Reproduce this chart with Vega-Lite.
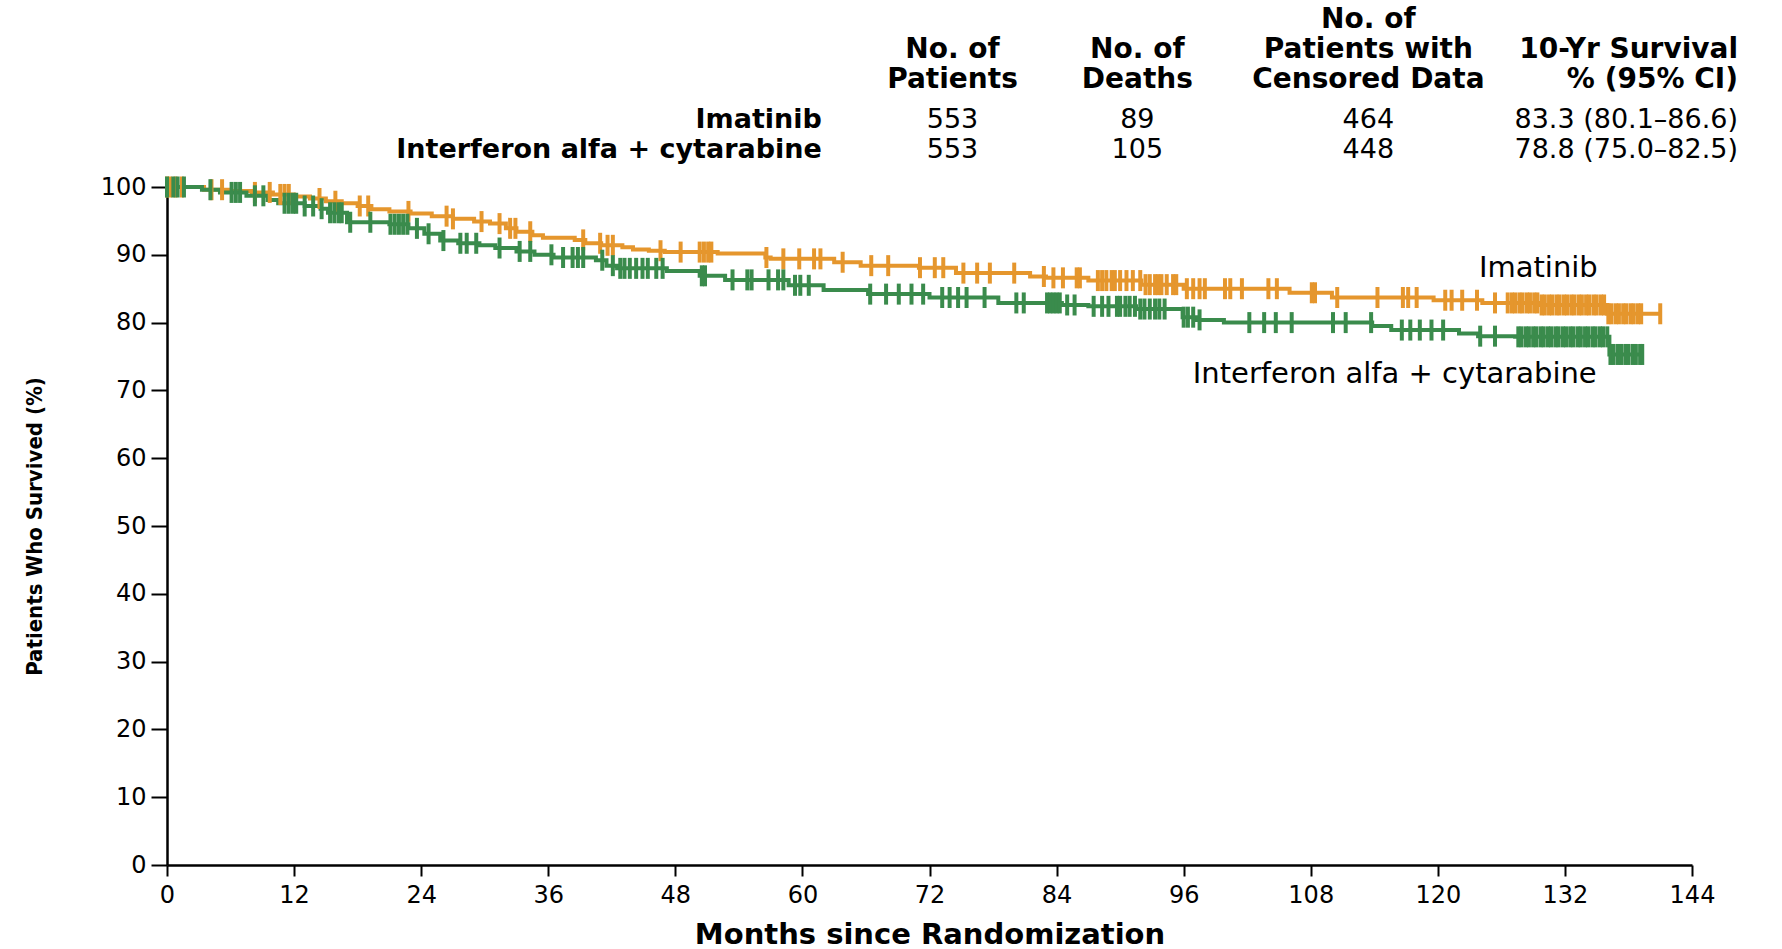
{
  "$schema": "https://vega.github.io/schema/vega-lite/v6.json",
  "background": "white",
  "padding": {"left": 23, "top": 6, "right": 0, "bottom": 0},
  "bounds": "flush",
  "spacing": 37,
  "config": {
    "view": {"stroke": null},
    "axis": {
      "grid": false,
      "domainColor": "black",
      "domainWidth": 2.5,
      "tickColor": "black",
      "tickWidth": 2,
      "labelColor": "black",
      "titleColor": "black",
      "labelFont": "DejaVu Sans",
      "labelFontSize": 24,
      "titleFont": "DejaVu Sans"
    }
  },
  "datasets": {
    "table": [
      {"col": "label", "line": "Imatinib", "kind": "row", "text": "Imatinib"},
      {"col": "label", "line": "Interferon alfa + cytarabine", "kind": "row", "text": "Interferon alfa + cytarabine"},
      {"col": "patients", "line": "l2", "kind": "header", "text": "No. of"},
      {"col": "patients", "line": "l3", "kind": "header", "text": "Patients"},
      {"col": "deaths", "line": "l2", "kind": "header", "text": "No. of"},
      {"col": "deaths", "line": "l3", "kind": "header", "text": "Deaths"},
      {"col": "censored", "line": "l1", "kind": "header", "text": "No. of"},
      {"col": "censored", "line": "l2", "kind": "header", "text": "Patients with"},
      {"col": "censored", "line": "l3", "kind": "header", "text": "Censored Data"},
      {"col": "survival", "line": "l2", "kind": "header", "text": "10-Yr Survival"},
      {"col": "survival", "line": "l3", "kind": "header", "text": "% (95% CI)"},
      {"col": "patients", "line": "Imatinib", "kind": "value", "text": "553"},
      {"col": "deaths", "line": "Imatinib", "kind": "value", "text": "89"},
      {"col": "censored", "line": "Imatinib", "kind": "value", "text": "464"},
      {"col": "survival", "line": "Imatinib", "kind": "value", "text": "83.3 (80.1–86.6)"},
      {"col": "patients", "line": "Interferon alfa + cytarabine", "kind": "value", "text": "553"},
      {"col": "deaths", "line": "Interferon alfa + cytarabine", "kind": "value", "text": "105"},
      {"col": "censored", "line": "Interferon alfa + cytarabine", "kind": "value", "text": "448"},
      {"col": "survival", "line": "Interferon alfa + cytarabine", "kind": "value", "text": "78.8 (75.0–82.5)"}
    ],
    "curve": [
      {"arm": "Imatinib", "month": 0, "surv": 100},
      {"arm": "Imatinib", "month": 3.5, "surv": 99.6},
      {"arm": "Imatinib", "month": 6, "surv": 99.4},
      {"arm": "Imatinib", "month": 8, "surv": 99.2},
      {"arm": "Imatinib", "month": 10, "surv": 98.9},
      {"arm": "Imatinib", "month": 12, "surv": 98.6},
      {"arm": "Imatinib", "month": 13.5, "surv": 98.3},
      {"arm": "Imatinib", "month": 15, "surv": 97.9},
      {"arm": "Imatinib", "month": 16.5, "surv": 97.6},
      {"arm": "Imatinib", "month": 18, "surv": 97.2},
      {"arm": "Imatinib", "month": 19.3, "surv": 96.7},
      {"arm": "Imatinib", "month": 21, "surv": 96.4},
      {"arm": "Imatinib", "month": 23, "surv": 96.1},
      {"arm": "Imatinib", "month": 25, "surv": 95.7},
      {"arm": "Imatinib", "month": 27, "surv": 95.3},
      {"arm": "Imatinib", "month": 29, "surv": 94.9},
      {"arm": "Imatinib", "month": 30.5, "surv": 94.6},
      {"arm": "Imatinib", "month": 32, "surv": 93.9},
      {"arm": "Imatinib", "month": 33, "surv": 93.4},
      {"arm": "Imatinib", "month": 34.5, "surv": 92.9},
      {"arm": "Imatinib", "month": 35.5, "surv": 92.5},
      {"arm": "Imatinib", "month": 38.5, "surv": 92.2},
      {"arm": "Imatinib", "month": 39.5, "surv": 91.7},
      {"arm": "Imatinib", "month": 41, "surv": 91.4},
      {"arm": "Imatinib", "month": 43, "surv": 91.1},
      {"arm": "Imatinib", "month": 44, "surv": 90.8},
      {"arm": "Imatinib", "month": 45.5, "surv": 90.6},
      {"arm": "Imatinib", "month": 47, "surv": 90.4},
      {"arm": "Imatinib", "month": 52, "surv": 90.2},
      {"arm": "Imatinib", "month": 56.5, "surv": 89.6},
      {"arm": "Imatinib", "month": 57, "surv": 89.4},
      {"arm": "Imatinib", "month": 63, "surv": 88.9},
      {"arm": "Imatinib", "month": 65.5, "surv": 88.4},
      {"arm": "Imatinib", "month": 71, "surv": 88.1},
      {"arm": "Imatinib", "month": 74.5, "surv": 87.3},
      {"arm": "Imatinib", "month": 81.5, "surv": 86.8},
      {"arm": "Imatinib", "month": 83, "surv": 86.6},
      {"arm": "Imatinib", "month": 87, "surv": 86.2},
      {"arm": "Imatinib", "month": 92, "surv": 85.6},
      {"arm": "Imatinib", "month": 96, "surv": 85.0},
      {"arm": "Imatinib", "month": 106, "surv": 84.4},
      {"arm": "Imatinib", "month": 110, "surv": 83.7},
      {"arm": "Imatinib", "month": 119.6, "surv": 83.3},
      {"arm": "Imatinib", "month": 124.2, "surv": 82.9},
      {"arm": "Imatinib", "month": 129.5, "surv": 82.6},
      {"arm": "Imatinib", "month": 136, "surv": 81.3},
      {"arm": "Imatinib", "month": 141, "surv": 81.3},
      {"arm": "Interferon alfa + cytarabine", "month": 0, "surv": 100},
      {"arm": "Interferon alfa + cytarabine", "month": 3.3, "surv": 99.6},
      {"arm": "Interferon alfa + cytarabine", "month": 5, "surv": 99.2},
      {"arm": "Interferon alfa + cytarabine", "month": 7.5, "surv": 98.7},
      {"arm": "Interferon alfa + cytarabine", "month": 9.5, "surv": 98.1},
      {"arm": "Interferon alfa + cytarabine", "month": 10.5, "surv": 97.6},
      {"arm": "Interferon alfa + cytarabine", "month": 13, "surv": 97.2},
      {"arm": "Interferon alfa + cytarabine", "month": 14.5, "surv": 96.8},
      {"arm": "Interferon alfa + cytarabine", "month": 15.2, "surv": 96.2},
      {"arm": "Interferon alfa + cytarabine", "month": 17, "surv": 94.8},
      {"arm": "Interferon alfa + cytarabine", "month": 21, "surv": 94.5},
      {"arm": "Interferon alfa + cytarabine", "month": 22.8, "surv": 93.9},
      {"arm": "Interferon alfa + cytarabine", "month": 24.3, "surv": 93.1},
      {"arm": "Interferon alfa + cytarabine", "month": 25.8, "surv": 92.1},
      {"arm": "Interferon alfa + cytarabine", "month": 27.5, "surv": 91.7},
      {"arm": "Interferon alfa + cytarabine", "month": 29.5, "surv": 91.4},
      {"arm": "Interferon alfa + cytarabine", "month": 31, "surv": 91.0},
      {"arm": "Interferon alfa + cytarabine", "month": 33, "surv": 90.5},
      {"arm": "Interferon alfa + cytarabine", "month": 34.7, "surv": 90.0},
      {"arm": "Interferon alfa + cytarabine", "month": 36.5, "surv": 89.6},
      {"arm": "Interferon alfa + cytarabine", "month": 40.5, "surv": 89.2},
      {"arm": "Interferon alfa + cytarabine", "month": 41.5, "surv": 88.4},
      {"arm": "Interferon alfa + cytarabine", "month": 42.5, "surv": 88.0},
      {"arm": "Interferon alfa + cytarabine", "month": 47.2, "surv": 87.6},
      {"arm": "Interferon alfa + cytarabine", "month": 50.3, "surv": 86.9},
      {"arm": "Interferon alfa + cytarabine", "month": 52.7, "surv": 86.3},
      {"arm": "Interferon alfa + cytarabine", "month": 58.7, "surv": 85.5},
      {"arm": "Interferon alfa + cytarabine", "month": 62, "surv": 84.8},
      {"arm": "Interferon alfa + cytarabine", "month": 66.2, "surv": 84.2},
      {"arm": "Interferon alfa + cytarabine", "month": 72, "surv": 83.7},
      {"arm": "Interferon alfa + cytarabine", "month": 78.5, "surv": 82.9},
      {"arm": "Interferon alfa + cytarabine", "month": 84.5, "surv": 82.6},
      {"arm": "Interferon alfa + cytarabine", "month": 87, "surv": 82.4},
      {"arm": "Interferon alfa + cytarabine", "month": 91.5, "surv": 82.0},
      {"arm": "Interferon alfa + cytarabine", "month": 95.9, "surv": 80.8},
      {"arm": "Interferon alfa + cytarabine", "month": 97.2, "surv": 80.4},
      {"arm": "Interferon alfa + cytarabine", "month": 99.8, "surv": 80.0},
      {"arm": "Interferon alfa + cytarabine", "month": 113.8, "surv": 79.5},
      {"arm": "Interferon alfa + cytarabine", "month": 115.6, "surv": 78.9},
      {"arm": "Interferon alfa + cytarabine", "month": 122, "surv": 78.4},
      {"arm": "Interferon alfa + cytarabine", "month": 123.8, "surv": 78.0},
      {"arm": "Interferon alfa + cytarabine", "month": 127.3, "surv": 77.9},
      {"arm": "Interferon alfa + cytarabine", "month": 136.2, "surv": 75.3},
      {"arm": "Interferon alfa + cytarabine", "month": 139.4, "surv": 75.3}
    ],
    "censor": [
      {"arm": "Imatinib", "month": 0.0, "surv": 100},
      {"arm": "Imatinib", "month": 0.3, "surv": 100},
      {"arm": "Imatinib", "month": 0.8, "surv": 100},
      {"arm": "Imatinib", "month": 1.4, "surv": 100},
      {"arm": "Imatinib", "month": 4.2, "surv": 99.6},
      {"arm": "Imatinib", "month": 5.2, "surv": 99.6},
      {"arm": "Imatinib", "month": 8.3, "surv": 99.2},
      {"arm": "Imatinib", "month": 9.7, "surv": 99.2},
      {"arm": "Imatinib", "month": 10.7, "surv": 98.9},
      {"arm": "Imatinib", "month": 11.1, "surv": 98.9},
      {"arm": "Imatinib", "month": 11.5, "surv": 98.9},
      {"arm": "Imatinib", "month": 14.4, "surv": 98.3},
      {"arm": "Imatinib", "month": 15.9, "surv": 97.9},
      {"arm": "Imatinib", "month": 18.2, "surv": 97.2},
      {"arm": "Imatinib", "month": 19.0, "surv": 97.2},
      {"arm": "Imatinib", "month": 22.8, "surv": 96.4},
      {"arm": "Imatinib", "month": 26.4, "surv": 95.7},
      {"arm": "Imatinib", "month": 27.0, "surv": 95.3},
      {"arm": "Imatinib", "month": 29.7, "surv": 94.9},
      {"arm": "Imatinib", "month": 31.4, "surv": 94.6},
      {"arm": "Imatinib", "month": 32.4, "surv": 93.9},
      {"arm": "Imatinib", "month": 32.9, "surv": 93.9},
      {"arm": "Imatinib", "month": 34.3, "surv": 93.4},
      {"arm": "Imatinib", "month": 39.3, "surv": 92.2},
      {"arm": "Imatinib", "month": 40.9, "surv": 91.7},
      {"arm": "Imatinib", "month": 41.6, "surv": 91.4},
      {"arm": "Imatinib", "month": 42.1, "surv": 91.4},
      {"arm": "Imatinib", "month": 46.6, "surv": 90.6},
      {"arm": "Imatinib", "month": 48.5, "surv": 90.4},
      {"arm": "Imatinib", "month": 50.3, "surv": 90.4},
      {"arm": "Imatinib", "month": 50.7, "surv": 90.4},
      {"arm": "Imatinib", "month": 51.1, "surv": 90.4},
      {"arm": "Imatinib", "month": 51.4, "surv": 90.4},
      {"arm": "Imatinib", "month": 56.6, "surv": 89.6},
      {"arm": "Imatinib", "month": 58.2, "surv": 89.4},
      {"arm": "Imatinib", "month": 59.7, "surv": 89.4},
      {"arm": "Imatinib", "month": 61.1, "surv": 89.4},
      {"arm": "Imatinib", "month": 61.7, "surv": 89.4},
      {"arm": "Imatinib", "month": 63.8, "surv": 88.9},
      {"arm": "Imatinib", "month": 66.5, "surv": 88.4},
      {"arm": "Imatinib", "month": 68.1, "surv": 88.4},
      {"arm": "Imatinib", "month": 71.1, "surv": 88.1},
      {"arm": "Imatinib", "month": 72.5, "surv": 88.1},
      {"arm": "Imatinib", "month": 73.3, "surv": 88.1},
      {"arm": "Imatinib", "month": 75.2, "surv": 87.3},
      {"arm": "Imatinib", "month": 76.5, "surv": 87.3},
      {"arm": "Imatinib", "month": 77.7, "surv": 87.3},
      {"arm": "Imatinib", "month": 80.0, "surv": 87.3},
      {"arm": "Imatinib", "month": 82.8, "surv": 86.8},
      {"arm": "Imatinib", "month": 83.7, "surv": 86.6},
      {"arm": "Imatinib", "month": 84.6, "surv": 86.6},
      {"arm": "Imatinib", "month": 85.9, "surv": 86.6},
      {"arm": "Imatinib", "month": 86.2, "surv": 86.6},
      {"arm": "Imatinib", "month": 87.9, "surv": 86.2},
      {"arm": "Imatinib", "month": 88.3, "surv": 86.2},
      {"arm": "Imatinib", "month": 88.7, "surv": 86.2},
      {"arm": "Imatinib", "month": 89.2, "surv": 86.2},
      {"arm": "Imatinib", "month": 89.5, "surv": 86.2},
      {"arm": "Imatinib", "month": 90.0, "surv": 86.2},
      {"arm": "Imatinib", "month": 90.6, "surv": 86.2},
      {"arm": "Imatinib", "month": 91.2, "surv": 86.2},
      {"arm": "Imatinib", "month": 91.9, "surv": 86.2},
      {"arm": "Imatinib", "month": 92.4, "surv": 85.6},
      {"arm": "Imatinib", "month": 92.8, "surv": 85.6},
      {"arm": "Imatinib", "month": 93.3, "surv": 85.6},
      {"arm": "Imatinib", "month": 93.6, "surv": 85.6},
      {"arm": "Imatinib", "month": 93.9, "surv": 85.6},
      {"arm": "Imatinib", "month": 94.4, "surv": 85.6},
      {"arm": "Imatinib", "month": 95.0, "surv": 85.6},
      {"arm": "Imatinib", "month": 95.3, "surv": 85.6},
      {"arm": "Imatinib", "month": 96.3, "surv": 85.0},
      {"arm": "Imatinib", "month": 96.9, "surv": 85.0},
      {"arm": "Imatinib", "month": 97.5, "surv": 85.0},
      {"arm": "Imatinib", "month": 98.0, "surv": 85.0},
      {"arm": "Imatinib", "month": 99.9, "surv": 85.0},
      {"arm": "Imatinib", "month": 100.4, "surv": 85.0},
      {"arm": "Imatinib", "month": 101.5, "surv": 85.0},
      {"arm": "Imatinib", "month": 104.0, "surv": 85.0},
      {"arm": "Imatinib", "month": 104.8, "surv": 85.0},
      {"arm": "Imatinib", "month": 108.1, "surv": 84.4},
      {"arm": "Imatinib", "month": 108.4, "surv": 84.4},
      {"arm": "Imatinib", "month": 110.5, "surv": 83.7},
      {"arm": "Imatinib", "month": 114.3, "surv": 83.7},
      {"arm": "Imatinib", "month": 116.7, "surv": 83.7},
      {"arm": "Imatinib", "month": 117.2, "surv": 83.7},
      {"arm": "Imatinib", "month": 118.0, "surv": 83.7},
      {"arm": "Imatinib", "month": 120.7, "surv": 83.3},
      {"arm": "Imatinib", "month": 121.3, "surv": 83.3},
      {"arm": "Imatinib", "month": 122.3, "surv": 83.3},
      {"arm": "Imatinib", "month": 123.7, "surv": 83.3},
      {"arm": "Imatinib", "month": 125.4, "surv": 82.9},
      {"arm": "Imatinib", "month": 126.6, "surv": 82.9},
      {"arm": "Imatinib", "month": 127.0, "surv": 82.9},
      {"arm": "Imatinib", "month": 127.3, "surv": 82.9},
      {"arm": "Imatinib", "month": 127.7, "surv": 82.9},
      {"arm": "Imatinib", "month": 128.0, "surv": 82.9},
      {"arm": "Imatinib", "month": 128.4, "surv": 82.9},
      {"arm": "Imatinib", "month": 128.7, "surv": 82.9},
      {"arm": "Imatinib", "month": 129.1, "surv": 82.9},
      {"arm": "Imatinib", "month": 129.4, "surv": 82.9},
      {"arm": "Imatinib", "month": 129.8, "surv": 82.6},
      {"arm": "Imatinib", "month": 130.1, "surv": 82.6},
      {"arm": "Imatinib", "month": 130.5, "surv": 82.6},
      {"arm": "Imatinib", "month": 130.8, "surv": 82.6},
      {"arm": "Imatinib", "month": 131.2, "surv": 82.6},
      {"arm": "Imatinib", "month": 131.5, "surv": 82.6},
      {"arm": "Imatinib", "month": 131.9, "surv": 82.6},
      {"arm": "Imatinib", "month": 132.2, "surv": 82.6},
      {"arm": "Imatinib", "month": 132.6, "surv": 82.6},
      {"arm": "Imatinib", "month": 132.9, "surv": 82.6},
      {"arm": "Imatinib", "month": 133.3, "surv": 82.6},
      {"arm": "Imatinib", "month": 133.6, "surv": 82.6},
      {"arm": "Imatinib", "month": 134.0, "surv": 82.6},
      {"arm": "Imatinib", "month": 134.3, "surv": 82.6},
      {"arm": "Imatinib", "month": 134.7, "surv": 82.6},
      {"arm": "Imatinib", "month": 135.0, "surv": 82.6},
      {"arm": "Imatinib", "month": 135.4, "surv": 82.6},
      {"arm": "Imatinib", "month": 135.7, "surv": 82.6},
      {"arm": "Imatinib", "month": 136.1, "surv": 81.3},
      {"arm": "Imatinib", "month": 136.4, "surv": 81.3},
      {"arm": "Imatinib", "month": 136.8, "surv": 81.3},
      {"arm": "Imatinib", "month": 137.1, "surv": 81.3},
      {"arm": "Imatinib", "month": 137.5, "surv": 81.3},
      {"arm": "Imatinib", "month": 137.8, "surv": 81.3},
      {"arm": "Imatinib", "month": 138.2, "surv": 81.3},
      {"arm": "Imatinib", "month": 138.5, "surv": 81.3},
      {"arm": "Imatinib", "month": 138.9, "surv": 81.3},
      {"arm": "Imatinib", "month": 139.2, "surv": 81.3},
      {"arm": "Imatinib", "month": 141.0, "surv": 81.3},
      {"arm": "Interferon alfa + cytarabine", "month": 0.0, "surv": 100},
      {"arm": "Interferon alfa + cytarabine", "month": 0.6, "surv": 100},
      {"arm": "Interferon alfa + cytarabine", "month": 1.0, "surv": 100},
      {"arm": "Interferon alfa + cytarabine", "month": 1.6, "surv": 100},
      {"arm": "Interferon alfa + cytarabine", "month": 4.1, "surv": 99.6},
      {"arm": "Interferon alfa + cytarabine", "month": 6.1, "surv": 99.2},
      {"arm": "Interferon alfa + cytarabine", "month": 6.5, "surv": 99.2},
      {"arm": "Interferon alfa + cytarabine", "month": 6.9, "surv": 99.2},
      {"arm": "Interferon alfa + cytarabine", "month": 8.3, "surv": 98.7},
      {"arm": "Interferon alfa + cytarabine", "month": 9.1, "surv": 98.7},
      {"arm": "Interferon alfa + cytarabine", "month": 11.1, "surv": 97.6},
      {"arm": "Interferon alfa + cytarabine", "month": 11.5, "surv": 97.6},
      {"arm": "Interferon alfa + cytarabine", "month": 11.9, "surv": 97.6},
      {"arm": "Interferon alfa + cytarabine", "month": 12.2, "surv": 97.6},
      {"arm": "Interferon alfa + cytarabine", "month": 13.0, "surv": 97.2},
      {"arm": "Interferon alfa + cytarabine", "month": 13.8, "surv": 97.2},
      {"arm": "Interferon alfa + cytarabine", "month": 14.6, "surv": 96.8},
      {"arm": "Interferon alfa + cytarabine", "month": 15.4, "surv": 96.2},
      {"arm": "Interferon alfa + cytarabine", "month": 15.8, "surv": 96.2},
      {"arm": "Interferon alfa + cytarabine", "month": 16.2, "surv": 96.2},
      {"arm": "Interferon alfa + cytarabine", "month": 16.5, "surv": 96.2},
      {"arm": "Interferon alfa + cytarabine", "month": 17.3, "surv": 94.8},
      {"arm": "Interferon alfa + cytarabine", "month": 19.2, "surv": 94.8},
      {"arm": "Interferon alfa + cytarabine", "month": 21.1, "surv": 94.5},
      {"arm": "Interferon alfa + cytarabine", "month": 21.5, "surv": 94.5},
      {"arm": "Interferon alfa + cytarabine", "month": 21.9, "surv": 94.5},
      {"arm": "Interferon alfa + cytarabine", "month": 22.3, "surv": 94.5},
      {"arm": "Interferon alfa + cytarabine", "month": 22.7, "surv": 94.5},
      {"arm": "Interferon alfa + cytarabine", "month": 23.6, "surv": 93.9},
      {"arm": "Interferon alfa + cytarabine", "month": 24.7, "surv": 93.1},
      {"arm": "Interferon alfa + cytarabine", "month": 26.1, "surv": 92.1},
      {"arm": "Interferon alfa + cytarabine", "month": 27.7, "surv": 91.7},
      {"arm": "Interferon alfa + cytarabine", "month": 28.3, "surv": 91.7},
      {"arm": "Interferon alfa + cytarabine", "month": 29.2, "surv": 91.7},
      {"arm": "Interferon alfa + cytarabine", "month": 31.4, "surv": 91.0},
      {"arm": "Interferon alfa + cytarabine", "month": 33.3, "surv": 90.5},
      {"arm": "Interferon alfa + cytarabine", "month": 34.3, "surv": 90.5},
      {"arm": "Interferon alfa + cytarabine", "month": 36.3, "surv": 90.0},
      {"arm": "Interferon alfa + cytarabine", "month": 37.4, "surv": 89.6},
      {"arm": "Interferon alfa + cytarabine", "month": 38.3, "surv": 89.6},
      {"arm": "Interferon alfa + cytarabine", "month": 38.8, "surv": 89.6},
      {"arm": "Interferon alfa + cytarabine", "month": 39.3, "surv": 89.6},
      {"arm": "Interferon alfa + cytarabine", "month": 41.1, "surv": 89.2},
      {"arm": "Interferon alfa + cytarabine", "month": 42.1, "surv": 88.4},
      {"arm": "Interferon alfa + cytarabine", "month": 42.8, "surv": 88.0},
      {"arm": "Interferon alfa + cytarabine", "month": 43.2, "surv": 88.0},
      {"arm": "Interferon alfa + cytarabine", "month": 43.7, "surv": 88.0},
      {"arm": "Interferon alfa + cytarabine", "month": 44.3, "surv": 88.0},
      {"arm": "Interferon alfa + cytarabine", "month": 44.9, "surv": 88.0},
      {"arm": "Interferon alfa + cytarabine", "month": 45.4, "surv": 88.0},
      {"arm": "Interferon alfa + cytarabine", "month": 46.2, "surv": 88.0},
      {"arm": "Interferon alfa + cytarabine", "month": 46.8, "surv": 88.0},
      {"arm": "Interferon alfa + cytarabine", "month": 50.5, "surv": 86.9},
      {"arm": "Interferon alfa + cytarabine", "month": 50.8, "surv": 86.9},
      {"arm": "Interferon alfa + cytarabine", "month": 53.4, "surv": 86.3},
      {"arm": "Interferon alfa + cytarabine", "month": 54.8, "surv": 86.3},
      {"arm": "Interferon alfa + cytarabine", "month": 55.2, "surv": 86.3},
      {"arm": "Interferon alfa + cytarabine", "month": 56.8, "surv": 86.3},
      {"arm": "Interferon alfa + cytarabine", "month": 57.7, "surv": 86.3},
      {"arm": "Interferon alfa + cytarabine", "month": 58.2, "surv": 86.3},
      {"arm": "Interferon alfa + cytarabine", "month": 59.3, "surv": 85.5},
      {"arm": "Interferon alfa + cytarabine", "month": 59.8, "surv": 85.5},
      {"arm": "Interferon alfa + cytarabine", "month": 60.6, "surv": 85.5},
      {"arm": "Interferon alfa + cytarabine", "month": 66.4, "surv": 84.2},
      {"arm": "Interferon alfa + cytarabine", "month": 67.9, "surv": 84.2},
      {"arm": "Interferon alfa + cytarabine", "month": 69.1, "surv": 84.2},
      {"arm": "Interferon alfa + cytarabine", "month": 70.3, "surv": 84.2},
      {"arm": "Interferon alfa + cytarabine", "month": 71.4, "surv": 84.2},
      {"arm": "Interferon alfa + cytarabine", "month": 73.2, "surv": 83.7},
      {"arm": "Interferon alfa + cytarabine", "month": 73.9, "surv": 83.7},
      {"arm": "Interferon alfa + cytarabine", "month": 74.7, "surv": 83.7},
      {"arm": "Interferon alfa + cytarabine", "month": 75.5, "surv": 83.7},
      {"arm": "Interferon alfa + cytarabine", "month": 77.2, "surv": 83.7},
      {"arm": "Interferon alfa + cytarabine", "month": 80.2, "surv": 82.9},
      {"arm": "Interferon alfa + cytarabine", "month": 80.9, "surv": 82.9},
      {"arm": "Interferon alfa + cytarabine", "month": 83.1, "surv": 82.9},
      {"arm": "Interferon alfa + cytarabine", "month": 83.4, "surv": 82.9},
      {"arm": "Interferon alfa + cytarabine", "month": 83.7, "surv": 82.9},
      {"arm": "Interferon alfa + cytarabine", "month": 84.0, "surv": 82.9},
      {"arm": "Interferon alfa + cytarabine", "month": 84.3, "surv": 82.9},
      {"arm": "Interferon alfa + cytarabine", "month": 85.0, "surv": 82.6},
      {"arm": "Interferon alfa + cytarabine", "month": 85.7, "surv": 82.6},
      {"arm": "Interferon alfa + cytarabine", "month": 87.5, "surv": 82.4},
      {"arm": "Interferon alfa + cytarabine", "month": 88.3, "surv": 82.4},
      {"arm": "Interferon alfa + cytarabine", "month": 88.9, "surv": 82.4},
      {"arm": "Interferon alfa + cytarabine", "month": 89.7, "surv": 82.4},
      {"arm": "Interferon alfa + cytarabine", "month": 90.0, "surv": 82.4},
      {"arm": "Interferon alfa + cytarabine", "month": 90.5, "surv": 82.4},
      {"arm": "Interferon alfa + cytarabine", "month": 90.9, "surv": 82.4},
      {"arm": "Interferon alfa + cytarabine", "month": 91.4, "surv": 82.4},
      {"arm": "Interferon alfa + cytarabine", "month": 91.9, "surv": 82.0},
      {"arm": "Interferon alfa + cytarabine", "month": 92.3, "surv": 82.0},
      {"arm": "Interferon alfa + cytarabine", "month": 92.8, "surv": 82.0},
      {"arm": "Interferon alfa + cytarabine", "month": 93.3, "surv": 82.0},
      {"arm": "Interferon alfa + cytarabine", "month": 93.7, "surv": 82.0},
      {"arm": "Interferon alfa + cytarabine", "month": 94.2, "surv": 82.0},
      {"arm": "Interferon alfa + cytarabine", "month": 96.0, "surv": 80.8},
      {"arm": "Interferon alfa + cytarabine", "month": 96.4, "surv": 80.8},
      {"arm": "Interferon alfa + cytarabine", "month": 96.9, "surv": 80.8},
      {"arm": "Interferon alfa + cytarabine", "month": 97.5, "surv": 80.4},
      {"arm": "Interferon alfa + cytarabine", "month": 102.2, "surv": 80.0},
      {"arm": "Interferon alfa + cytarabine", "month": 103.6, "surv": 80.0},
      {"arm": "Interferon alfa + cytarabine", "month": 104.7, "surv": 80.0},
      {"arm": "Interferon alfa + cytarabine", "month": 106.2, "surv": 80.0},
      {"arm": "Interferon alfa + cytarabine", "month": 110.1, "surv": 80.0},
      {"arm": "Interferon alfa + cytarabine", "month": 111.3, "surv": 80.0},
      {"arm": "Interferon alfa + cytarabine", "month": 113.7, "surv": 80.0},
      {"arm": "Interferon alfa + cytarabine", "month": 116.6, "surv": 78.9},
      {"arm": "Interferon alfa + cytarabine", "month": 117.4, "surv": 78.9},
      {"arm": "Interferon alfa + cytarabine", "month": 118.3, "surv": 78.9},
      {"arm": "Interferon alfa + cytarabine", "month": 119.4, "surv": 78.9},
      {"arm": "Interferon alfa + cytarabine", "month": 120.5, "surv": 78.9},
      {"arm": "Interferon alfa + cytarabine", "month": 124.0, "surv": 78.0},
      {"arm": "Interferon alfa + cytarabine", "month": 125.4, "surv": 78.0},
      {"arm": "Interferon alfa + cytarabine", "month": 127.6, "surv": 77.9},
      {"arm": "Interferon alfa + cytarabine", "month": 127.9, "surv": 77.9},
      {"arm": "Interferon alfa + cytarabine", "month": 128.3, "surv": 77.9},
      {"arm": "Interferon alfa + cytarabine", "month": 128.6, "surv": 77.9},
      {"arm": "Interferon alfa + cytarabine", "month": 129.0, "surv": 77.9},
      {"arm": "Interferon alfa + cytarabine", "month": 129.3, "surv": 77.9},
      {"arm": "Interferon alfa + cytarabine", "month": 129.7, "surv": 77.9},
      {"arm": "Interferon alfa + cytarabine", "month": 130.0, "surv": 77.9},
      {"arm": "Interferon alfa + cytarabine", "month": 130.4, "surv": 77.9},
      {"arm": "Interferon alfa + cytarabine", "month": 130.7, "surv": 77.9},
      {"arm": "Interferon alfa + cytarabine", "month": 131.1, "surv": 77.9},
      {"arm": "Interferon alfa + cytarabine", "month": 131.4, "surv": 77.9},
      {"arm": "Interferon alfa + cytarabine", "month": 131.8, "surv": 77.9},
      {"arm": "Interferon alfa + cytarabine", "month": 132.1, "surv": 77.9},
      {"arm": "Interferon alfa + cytarabine", "month": 132.5, "surv": 77.9},
      {"arm": "Interferon alfa + cytarabine", "month": 132.8, "surv": 77.9},
      {"arm": "Interferon alfa + cytarabine", "month": 133.2, "surv": 77.9},
      {"arm": "Interferon alfa + cytarabine", "month": 133.5, "surv": 77.9},
      {"arm": "Interferon alfa + cytarabine", "month": 133.9, "surv": 77.9},
      {"arm": "Interferon alfa + cytarabine", "month": 134.2, "surv": 77.9},
      {"arm": "Interferon alfa + cytarabine", "month": 134.6, "surv": 77.9},
      {"arm": "Interferon alfa + cytarabine", "month": 134.9, "surv": 77.9},
      {"arm": "Interferon alfa + cytarabine", "month": 135.3, "surv": 77.9},
      {"arm": "Interferon alfa + cytarabine", "month": 135.6, "surv": 77.9},
      {"arm": "Interferon alfa + cytarabine", "month": 136.0, "surv": 77.9},
      {"arm": "Interferon alfa + cytarabine", "month": 136.3, "surv": 75.3},
      {"arm": "Interferon alfa + cytarabine", "month": 136.6, "surv": 75.3},
      {"arm": "Interferon alfa + cytarabine", "month": 137.0, "surv": 75.3},
      {"arm": "Interferon alfa + cytarabine", "month": 137.3, "surv": 75.3},
      {"arm": "Interferon alfa + cytarabine", "month": 137.7, "surv": 75.3},
      {"arm": "Interferon alfa + cytarabine", "month": 138.0, "surv": 75.3},
      {"arm": "Interferon alfa + cytarabine", "month": 138.4, "surv": 75.3},
      {"arm": "Interferon alfa + cytarabine", "month": 138.7, "surv": 75.3},
      {"arm": "Interferon alfa + cytarabine", "month": 139.1, "surv": 75.3},
      {"arm": "Interferon alfa + cytarabine", "month": 139.3, "surv": 75.3}
    ],
    "labels": [
      {"label": "Imatinib", "month": 135.1, "surv": 88.0},
      {"label": "Interferon alfa + cytarabine", "month": 135.0, "surv": 72.4}
    ]
  },
  "vconcat": [
    {
      "width": 1571,
      "height": 130,
      "data": {"name": "table"},
      "encoding": {
        "x": {
          "field": "col",
          "type": "nominal",
          "axis": null,
          "scale": {
            "type": "point",
            "padding": 0,
            "domain": ["s0","s1","s2","s3","s4","s5","s6","s7","s8","s9","s10","s11","s12","s13","label","s15","s16","patients","s18","s19","s20","deaths","s22","s23","s24","s25","censored","s27","s28","s29","s30","s31","s32","s33","survival"]
          }
        },
        "y": {
          "field": "line",
          "type": "nominal",
          "axis": null,
          "scale": {
            "type": "point",
            "padding": 0,
            "domain": ["l1","t1","t2","l2","t3","t4","l3","t5","t6","t7","Imatinib","t8","t9","Interferon alfa + cytarabine"]
          }
        },
        "text": {"field": "text", "type": "nominal"}
      },
      "layer": [
        {
          "transform": [{"filter": "datum.kind === 'row'"}],
          "mark": {"type": "text", "align": "right", "baseline": "middle", "dx": 8, "font": "DejaVu Sans", "fontSize": 27, "fontWeight": "bold", "color": "black"}
        },
        {
          "transform": [{"filter": "datum.kind === 'header' && datum.col !== 'survival'"}],
          "mark": {"type": "text", "align": "center", "baseline": "middle", "font": "DejaVu Sans", "fontSize": 28, "fontWeight": "bold", "color": "black"}
        },
        {
          "transform": [{"filter": "datum.kind === 'header' && datum.col === 'survival'"}],
          "mark": {"type": "text", "align": "right", "baseline": "middle", "font": "DejaVu Sans", "fontSize": 28, "fontWeight": "bold", "color": "black"}
        },
        {
          "transform": [{"filter": "datum.kind === 'value' && datum.col !== 'survival'"}],
          "mark": {"type": "text", "align": "center", "baseline": "middle", "font": "DejaVu Sans", "fontSize": 27, "color": "black"}
        },
        {
          "transform": [{"filter": "datum.kind === 'value' && datum.col === 'survival'"}],
          "mark": {"type": "text", "align": "right", "baseline": "middle", "font": "DejaVu Sans", "fontSize": 27, "color": "black"}
        }
      ]
    },
    {
      "width": 1525,
      "height": 678,
      "encoding": {
        "x": {
          "field": "month",
          "type": "quantitative",
          "scale": {"domain": [0, 144], "nice": false},
          "axis": {
            "values": [0, 12, 24, 36, 48, 60, 72, 84, 96, 108, 120, 132, 144],
            "title": "Months since Randomization",
            "titleFontSize": 29,
            "titleFontWeight": "bold",
            "titlePadding": 13,
            "labelPadding": 7,
            "tickSize": 11,
            "labelFlush": false
          }
        },
        "y": {
          "field": "surv",
          "type": "quantitative",
          "scale": {"domain": [0, 100], "nice": false},
          "axis": {
            "values": [0, 10, 20, 30, 40, 50, 60, 70, 80, 90, 100],
            "title": "Patients Who Survived (%)",
            "titleFont": "Liberation Sans Narrow, DejaVu Sans Condensed, DejaVu Sans",
            "titleFontSize": 22,
            "titleFontWeight": "bold",
            "titlePadding": 54,
            "labelPadding": 5,
            "tickSize": 16
          }
        }
      },
      "layer": [
        {
          "data": {"name": "curve"},
          "mark": {"type": "line", "interpolate": "step-after", "strokeWidth": 4},
          "encoding": {
            "color": {
              "field": "arm",
              "type": "nominal",
              "scale": {"domain": ["Imatinib", "Interferon alfa + cytarabine"], "range": ["#E5962D", "#3A8B4C"]},
              "legend": null
            }
          }
        },
        {
          "data": {"name": "censor"},
          "mark": {"type": "tick", "orient": "vertical", "thickness": 4, "size": 21, "opacity": 1},
          "encoding": {
            "color": {"field": "arm", "type": "nominal", "legend": null}
          }
        },
        {
          "data": {"name": "labels"},
          "mark": {"type": "text", "align": "right", "baseline": "middle", "font": "DejaVu Sans", "fontSize": 29, "color": "black"},
          "encoding": {
            "text": {"field": "label", "type": "nominal"}
          }
        }
      ]
    }
  ]
}
